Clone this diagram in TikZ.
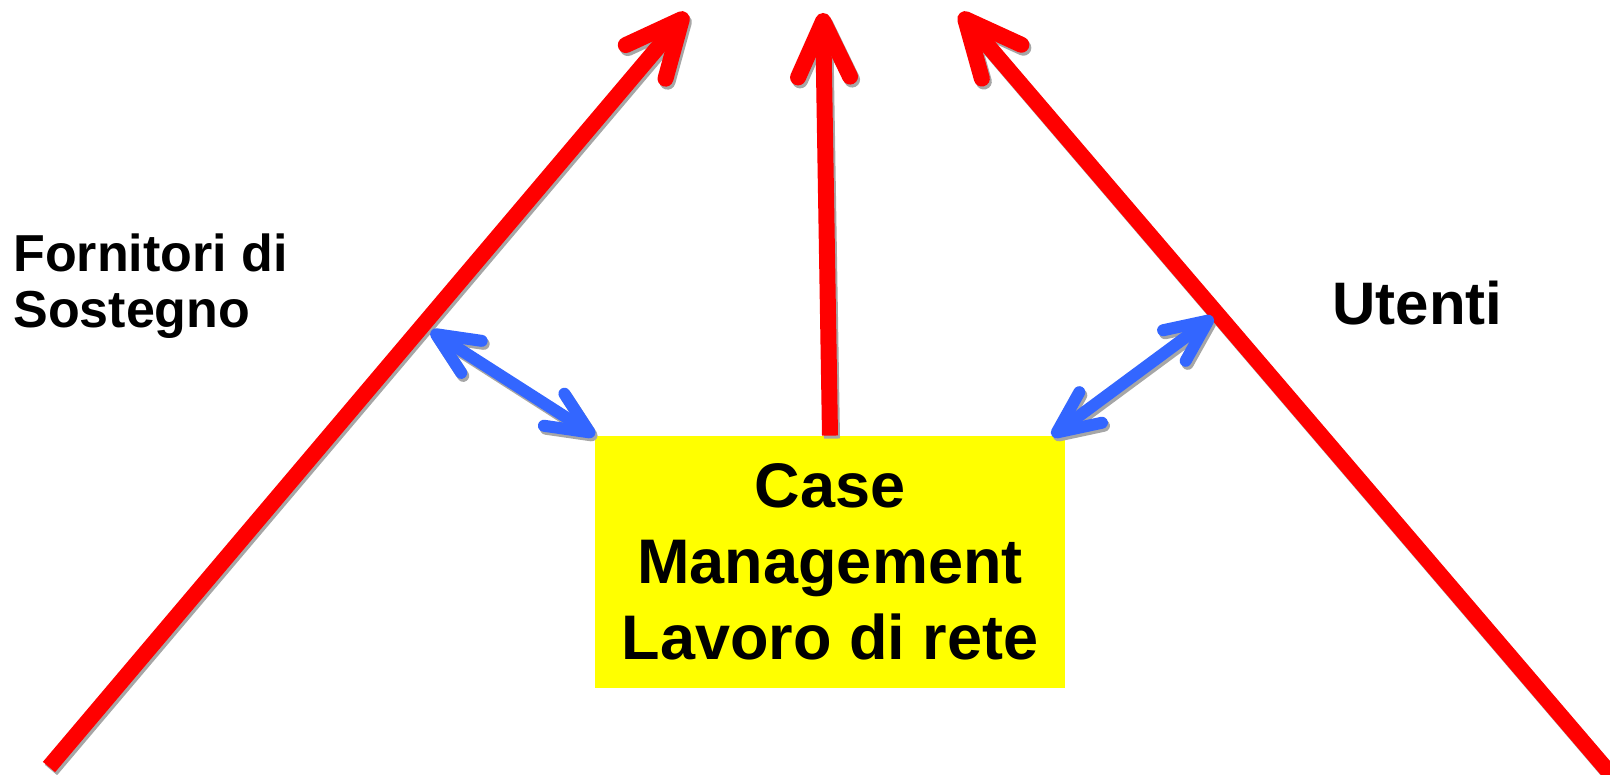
\documentclass[tikz,border=0pt]{standalone}
\usepackage{fontspec}
\setmainfont{Liberation Sans}
\usetikzlibrary{arrows.meta}

\definecolor{arrowred}{RGB}{255,0,0}
\definecolor{arrowblue}{RGB}{51,102,255}
\definecolor{shadowgray}{RGB}{166,166,166}
\definecolor{boxyellow}{RGB}{255,255,0}

\tikzset{
  bigarrow/.style={line width=8pt, -{Straight Barb[length=28pt,width=26pt,round]}},
  twoarrow/.style={line width=6pt,
    {Straight Barb[length=21pt,width=19pt,round]}-{Straight Barb[length=21pt,width=19pt,round]}},
  dropgray/.style={draw=shadowgray, transform canvas={shift={(2,3)}}},
  label/.style={inner sep=0pt, anchor=north west, align=left},
}

\begin{document}
\begin{tikzpicture}[x=0.5pt,y=-0.5pt]
\path[use as bounding box, clip] (0,0) rectangle (1610,775);

\node[fill=boxyellow, minimum width=235pt, minimum height=126pt, inner sep=0pt,
  align=center, font=\bfseries\fontsize{31.5}{38}\selectfont] (cm) at (830,562)
  {Case\\Management\\Lavoro di rete};
\node[label, font=\bfseries\fontsize{26}{28}\selectfont] (fs) at (13,233) {Fornitori di\\Sostegno};
\node[label, font=\bfseries\fontsize{30}{36}\selectfont] (ut) at (1332,281) {Utenti};

% ends of the red arrows
\coordinate (lb) at (49,767);
\coordinate (lt) at (687,13);
\coordinate (mt) at (823,13);
\coordinate (rb) at (1614,778);
\coordinate (rt) at (960,13);
% ends of the blue arrows
\coordinate (lbt) at (431,331);
\coordinate (rbt) at (1213,317);
\coordinate (rbb) at (1052,436);

% shadows
\draw[bigarrow, dropgray] (lb) -- (lt);
\draw[bigarrow, dropgray] (cm.north) -- (mt);
\draw[bigarrow, dropgray] (rb) -- (rt);
\draw[twoarrow, dropgray] (lbt) -- (cm.north west);
\draw[twoarrow, dropgray] (rbt) -- (rbb);

% arrows
\draw[bigarrow, arrowred] (lb) -- (lt);
\draw[bigarrow, arrowred] (cm.north) -- (mt);
\draw[bigarrow, arrowred] (rb) -- (rt);
\draw[twoarrow, arrowblue] (lbt) -- (cm.north west);
\draw[twoarrow, arrowblue] (rbt) -- (rbb);
\end{tikzpicture}
\end{document}
